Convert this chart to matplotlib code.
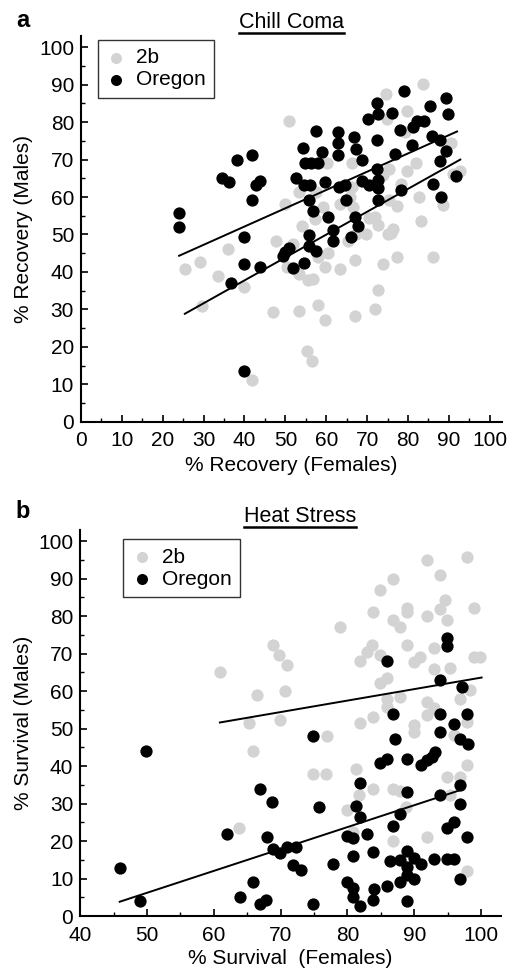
import numpy as np
import matplotlib
matplotlib.use('Agg')
from matplotlib import pyplot as plt
from matplotlib.lines import Line2D
from matplotlib.ticker import MultipleLocator

plt.rcParams['font.family'] = ['Liberation Sans', 'DejaVu Sans']

##############################################################################
# data: (% females, % males) per line

chill_2b = [
    (25.4, 40.7), (29.1, 42.7), (33.6, 38.9), (36.0, 46.2), (29.5, 31.0), (39.9, 36.0),
    (41.9, 11.2), (47.7, 48.2), (46.9, 29.4), (50.3, 41.2), (51.8, 47.5), (53.4, 29.6),
    (53.4, 39.4), (55.6, 37.8), (56.8, 38.1), (57.9, 31.2), (55.3, 18.8), (56.6, 16.1),
    (59.7, 27.2), (58.0, 44.0), (60.5, 45.1), (59.7, 41.2), (63.3, 40.7), (67.0, 43.1),
    (67.0, 28.3), (65.4, 48.2), (69.8, 50.0), (71.9, 30.1), (72.7, 35.1), (73.8, 42.0),
    (77.3, 44.0), (86.1, 44.0), (75.9, 50.4), (50.8, 80.2), (74.7, 87.6), (83.7, 90.2),
    (79.8, 83.1), (79.2, 77.3), (74.9, 80.9), (90.6, 74.5), (92.7, 67.0), (81.9, 69.1),
    (79.8, 66.9), (75.4, 67.4), (73.9, 65.8), (66.4, 69.1), (60.3, 69.1), (82.6, 59.9),
    (83.1, 53.6), (88.6, 57.8), (77.2, 57.7), (75.3, 59.3), (76.4, 51.4), (75.1, 50.2),
    (70.5, 54.5), (71.9, 54.7), (67.4, 50.2), (65.8, 60.0), (66.6, 57.3), (66.2, 62.6),
    (63.3, 58.2), (57.6, 61.3), (59.2, 57.3), (54.0, 52.2), (53.3, 61.3), (49.9, 58.2),
    (57.2, 54.2), (78.4, 63.6), (72.7, 52.5), (91.0, 66.2),
]

chill_oregon = [
    (24.0, 55.7), (24.0, 52.0), (34.6, 65.2), (36.1, 64.0), (38.1, 69.8), (41.9, 71.1),
    (41.9, 59.1), (42.9, 63.1), (43.9, 64.2), (40.0, 49.2), (40.0, 42.2), (43.8, 41.4),
    (36.8, 37.0), (40.0, 13.5), (49.5, 44.3), (49.9, 45.4), (50.8, 46.3), (51.8, 41.1),
    (54.5, 42.5), (55.8, 49.8), (55.8, 47.0), (57.5, 45.5), (52.7, 65.1), (54.2, 73.1),
    (57.6, 77.5), (54.8, 69.1), (56.2, 69.1), (58.0, 69.1), (58.9, 72.0), (54.5, 63.3),
    (56.0, 63.3), (55.8, 59.3), (56.8, 56.2), (59.7, 64.0), (60.5, 54.7), (61.7, 51.2),
    (61.7, 48.2), (62.8, 77.3), (62.8, 74.4), (62.8, 71.1), (63.0, 62.7), (64.6, 63.1),
    (64.8, 59.3), (66.8, 76.0), (67.4, 72.9), (68.8, 70.0), (67.0, 54.7), (67.8, 52.2),
    (66.0, 49.3), (70.3, 80.9), (72.5, 85.1), (72.7, 82.2), (72.5, 75.1), (68.8, 64.4),
    (70.5, 63.1), (72.5, 67.4), (72.7, 64.5), (72.7, 62.5), (72.7, 59.2), (76.2, 82.5),
    (79.0, 88.3), (78.0, 77.8), (76.8, 71.4), (78.3, 61.8), (80.9, 73.8), (81.3, 78.7),
    (82.1, 80.2), (83.9, 80.3), (85.5, 84.2), (85.8, 76.3), (87.8, 75.1), (89.3, 86.5),
    (89.9, 82.2), (89.3, 72.4), (87.8, 69.6), (86.1, 63.6), (88.0, 59.9), (91.7, 65.5),
]

heat_2b = [
    (60.9, 65.0), (68.9, 72.3), (69.7, 69.6), (70.9, 67.1), (66.4, 59.1), (70.6, 60.0),
    (65.2, 51.4), (69.9, 52.3), (78.9, 77.2), (84.9, 87.1), (86.9, 90.0), (91.9, 94.9),
    (93.9, 90.9), (97.9, 95.8), (83.8, 81.0), (86.9, 79.1), (87.9, 77.2), (88.9, 82.3),
    (88.9, 81.0), (91.9, 80.0), (94.6, 84.3), (93.9, 82.0), (94.9, 79.1), (98.9, 82.2),
    (81.9, 68.0), (82.9, 70.5), (83.7, 72.3), (84.9, 69.6), (88.9, 72.3), (89.9, 67.8),
    (90.9, 69.2), (92.9, 71.4), (92.9, 66.0), (95.4, 66.3), (98.9, 69.2), (99.9, 69.2),
    (84.9, 62.2), (85.9, 63.4), (85.9, 58.0), (87.9, 58.5), (85.9, 55.8), (91.9, 57.2),
    (92.9, 55.4), (96.9, 58.0), (98.4, 60.3), (83.8, 53.2), (81.9, 51.4), (89.9, 50.9),
    (91.9, 53.6), (97.9, 51.8), (65.9, 44.0), (63.8, 23.5), (74.9, 38.0), (76.8, 38.0),
    (76.9, 48.0), (81.3, 39.1), (81.7, 32.2), (79.9, 28.2), (80.9, 22.5), (83.9, 34.0),
    (86.9, 34.0), (87.9, 33.4), (86.9, 20.1), (88.7, 29.1), (89.9, 49.1), (91.9, 21.1),
    (94.9, 37.0), (95.9, 48.2), (96.9, 37.1), (97.9, 40.2), (95.4, 32.2), (97.9, 12.1),
]

heat_oregon = [
    (45.9, 12.9), (48.9, 4.1), (49.9, 44.0), (61.9, 22.0), (63.9, 5.0), (65.9, 9.0),
    (66.9, 34.0), (66.9, 3.2), (67.8, 4.3), (67.9, 21.1), (68.7, 30.5), (68.9, 18.0),
    (69.9, 16.7), (70.9, 18.3), (72.3, 18.5), (71.9, 13.6), (73.1, 12.3), (74.9, 48.0),
    (74.9, 3.2), (75.8, 29.1), (77.9, 14.0), (79.9, 9.1), (79.9, 21.3), (80.9, 20.7),
    (80.9, 16.0), (80.8, 7.4), (80.9, 5.2), (81.3, 29.3), (81.9, 26.5), (81.9, 35.5),
    (81.9, 2.8), (82.9, 22.0), (83.8, 17.1), (84.0, 7.1), (83.9, 4.3), (84.9, 40.9),
    (85.9, 42.0), (85.9, 8.1), (86.4, 14.7), (87.2, 47.1), (86.9, 24.0), (87.9, 27.1),
    (87.9, 14.9), (87.9, 9.1), (88.9, 42.0), (88.9, 33.1), (88.9, 17.3), (88.9, 13.1),
    (88.9, 11.0), (88.9, 4.1), (89.9, 15.4), (89.9, 10.0), (91.0, 14.0), (91.0, 40.2),
    (91.9, 41.7), (92.6, 42.5), (93.1, 43.8), (92.9, 15.1), (93.9, 49.1), (93.9, 32.2),
    (94.9, 23.4), (94.9, 15.1), (95.9, 25.1), (95.9, 15.1), (95.9, 51.2), (96.9, 47.3),
    (96.9, 34.9), (96.9, 30.0), (96.9, 10.0), (98.0, 46.0), (97.9, 21.1), (85.9, 68.1),
    (94.9, 74.3), (94.9, 72.1), (93.9, 63.1), (97.1, 61.0), (86.9, 54.0), (93.9, 54.0),
    (97.9, 54.0),
]

# regression lines: (slope, intercept, x start, x end)
chill_fit_2b = (0.611, 13.3, 25.4, 92.8)
chill_fit_oregon = (0.488, 32.6, 24.0, 92.0)
heat_fit_2b = (0.306, 33.0, 60.9, 100.1)
heat_fit_oregon = (0.584, -23.0, 45.9, 96.9)

strains = ['2b', 'Oregon']
grey = '#d3d3d3'
fs = 15

W, H = 513, 969
fig = plt.figure(figsize=(W / 100, H / 100), dpi=100)


def px(x0, y0, x1, y1):
    # pixel box (top-left origin) -> figure fraction rect
    return [x0 / W, 1 - y1 / H, (x1 - x0) / W, (y1 - y0) / H]


def panel(ax, pts_2b, pts_ore, fits, xlim, xlabel, ylabel, legend_xy):
    a = np.array(pts_2b)
    b = np.array(pts_ore)
    ax.scatter(a[:, 0], a[:, 1], s=78, color=grey, linewidths=0, label=strains[0], zorder=2)
    ax.scatter(b[:, 0], b[:, 1], s=78, color='black', linewidths=0, label=strains[1], zorder=3)
    for slope, icpt, xs, xe in fits:
        xx = np.array([xs, xe])
        ax.plot(xx, slope * xx + icpt, color='black', lw=1.4, zorder=4)

    ax.set_xlim(*xlim)
    ax.set_ylim(0, 103)
    ax.set_xticks(np.arange(xlim[0], 101, 10))
    ax.xaxis.set_minor_locator(MultipleLocator(5))
    ax.set_yticks(np.arange(0, 101, 10))
    ax.yaxis.set_minor_locator(MultipleLocator(5))
    for s in ['top', 'right']:
        ax.spines[s].set_visible(False)
    for s in ['left', 'bottom']:
        ax.spines[s].set_linewidth(1.5)
    ax.tick_params(which='major', direction='in', length=5, width=1.2, labelsize=fs)
    ax.tick_params(which='minor', direction='in', length=3, width=1.0)
    ax.tick_params(axis='x', pad=7)
    ax.tick_params(axis='y', pad=5)

    ax.set_xlabel(xlabel, fontsize=fs)
    ax.set_ylabel(ylabel, fontsize=fs)

    leg = ax.legend(loc='upper left', bbox_to_anchor=legend_xy, bbox_transform=fig.transFigure,
                    fontsize=fs, frameon=True, fancybox=False, edgecolor='black',
                    borderaxespad=0, borderpad=0.4, labelspacing=0.15, handlelength=1.0,
                    handletextpad=0.45, markerscale=0.9, scatterpoints=1)
    leg.get_frame().set_linewidth(1.0)


ax_a = fig.add_axes(px(81, 36, 502, 421.7))
panel(ax_a, chill_2b, chill_oregon, [chill_fit_2b, chill_fit_oregon], (0, 103),
      '% Recovery (Females)', '% Recovery (Males)', (97.7 / W, 1 - 40 / H))
ax_a.xaxis.set_label_coords(0.5, -0.088)
ax_a.yaxis.set_label_coords(-0.114, 0.5)

ax_b = fig.add_axes(px(80.3, 530, 501, 916))
panel(ax_b, heat_2b, heat_oregon, [heat_fit_2b, heat_fit_oregon], (40, 103),
      '% Survival  (Females)', '% Survival (Males)', (123.3 / W, 1 - 539.3 / H))
ax_b.xaxis.set_label_coords(0.5, -0.086)
ax_b.yaxis.set_label_coords(-0.112, 0.5)

# panel letters
fig.text(16 / W, 1 - 27 / H, 'a', fontsize=17, fontweight='bold', va='baseline')
fig.text(15 / W, 1 - 518 / H, 'b', fontsize=17, fontweight='bold', va='baseline')

# underlined titles
titles = [('Chill Coma', 291.7, 28.5, 32.7), ('Heat Stress', 299.7, 521.7, 526.7)]
txts = []
for name, cx, base, uy in titles:
    t = fig.text(cx / W, 1 - base / H, name, fontsize=15.5, ha='center', va='baseline')
    txts.append((t, uy))
fig.canvas.draw()
r = fig.canvas.get_renderer()
for t, uy in txts:
    bb = t.get_window_extent(r)
    fig.add_artist(Line2D([bb.x0 / W, bb.x1 / W], [1 - uy / H, 1 - uy / H],
                          transform=fig.transFigure, color='black', lw=1.8))

plt.savefig('out.png', dpi=100)
